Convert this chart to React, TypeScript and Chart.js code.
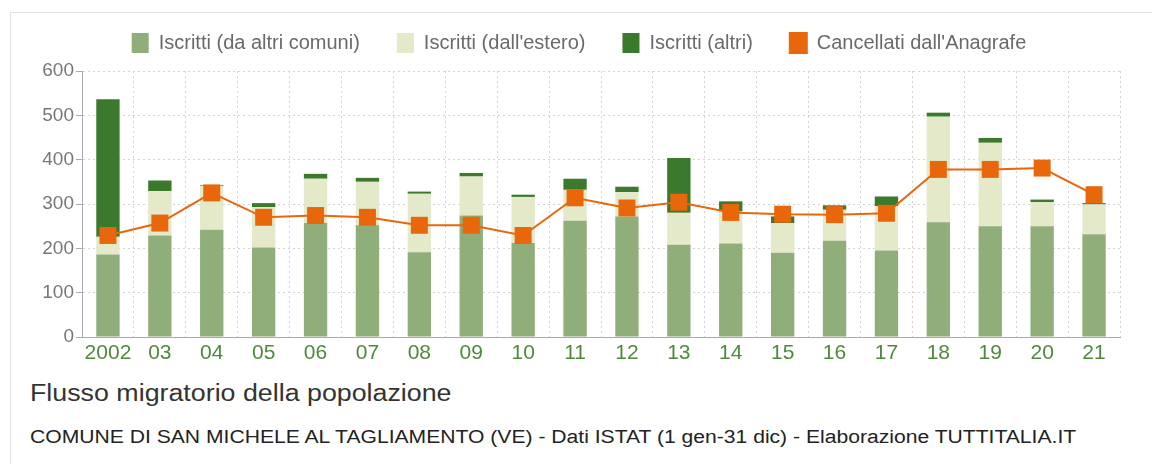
import React, { useEffect, useRef } from "react";
import { Chart, registerables } from "chart.js";

Chart.register(...registerables);

const years = ["2002", "03", "04", "05", "06", "07", "08", "09", "10", "11", "12", "13", "14", "15", "16", "17", "18", "19", "20", "21"];
const daAltriComuni = [186, 229, 242, 202, 257, 252, 191, 274, 212, 262, 272, 208, 211, 190, 217, 195, 259, 250, 250, 232];
const dallEstero = [40, 100, 99, 91, 100, 98, 132, 88, 104, 70, 55, 72, 72, 67, 70, 100, 238, 188, 54, 67];
const altri = [310, 24, 2, 9, 11, 9, 5, 8, 5, 25, 12, 124, 23, 15, 10, 22, 9, 11, 6, 3];
const cancellati = [229, 257, 325, 270, 274, 270, 252, 252, 229, 314, 291, 304, 281, 277, 276, 279, 378, 378, 381, 321];
const yTicks = [0, 100, 200, 300, 400, 500, 600];

const FONT = '"Liberation Sans", Arial, Helvetica, sans-serif';
const C_ALTRI_COMUNI = "#8fae79";
const C_ESTERO = "#e3e9c9";
const C_ALTRI = "#3b7a2c";
const C_CANC = "#e8670b";

export default function App() {
  const ref = useRef<HTMLCanvasElement | null>(null);

  useEffect(() => {
    const canvas = ref.current;
    if (!canvas) return;
    const legendFix = {
      id: "legendFix",
      beforeLayout(chart: any) {
        const lg = chart.legend;
        if (lg && !lg.__fixed) {
          const orig = lg.fit.bind(lg);
          lg.fit = function () {
            orig();
            this.height = 75;
          };
          lg.__fixed = true;
        }
      },
      afterLayout(chart: any) {
        const lg = chart.legend;
        if (lg) {
          lg.left += 14;
          lg.right += 14;
        }
      },
    };
    const chart = new Chart(canvas, {
      type: "bar",
      data: {
        labels: years,
        datasets: [
          {
            type: "line",
            label: "Cancellati dall'Anagrafe",
            data: cancellati,
            borderColor: C_CANC,
            backgroundColor: C_CANC,
            borderWidth: 2,
            pointStyle: "rect",
            pointRadius: 12,
            pointBorderWidth: 0,
            pointBackgroundColor: C_CANC,
            order: 0,
          } as any,
          {
            label: "Iscritti (da altri comuni)",
            data: daAltriComuni,
            backgroundColor: C_ALTRI_COMUNI,
            borderWidth: 0,
            stack: "s",
            order: 1,
          },
          {
            label: "Iscritti (dall'estero)",
            data: dallEstero,
            backgroundColor: C_ESTERO,
            borderWidth: 0,
            stack: "s",
            order: 1,
          },
          {
            label: "Iscritti (altri)",
            data: altri,
            backgroundColor: C_ALTRI,
            borderWidth: 0,
            stack: "s",
            order: 1,
          },
        ],
      },
      options: {
        animation: false,
        responsive: false,
        devicePixelRatio: 1,
        layout: { padding: { top: -16, left: 0, right: 32, bottom: 5 } },
        datasets: { bar: { categoryPercentage: 0.5, barPercentage: 0.9 } },
        plugins: {
          legend: {
            position: "top",
            labels: {
              boxWidth: 17,
              boxHeight: 20,
              padding: 37,
              color: "#6a6a6a",
              font: { family: FONT, size: 20 },
              sort: (a: any, b: any) => {
                const order = ["Iscritti (da altri comuni)", "Iscritti (dall'estero)", "Iscritti (altri)", "Cancellati dall'Anagrafe"];
                return order.indexOf(a.text) - order.indexOf(b.text);
              },
            },
          },
          tooltip: { enabled: false },
        },
        scales: {
          x: {
            stacked: true,
            offset: true,
            grid: { offset: true, color: "#d4d4d4", borderDash: [2, 3], drawTicks: false } as any,
            border: { color: "#aaa", dash: [2, 3] } as any,
            ticks: { color: "#4f8a3c", font: { family: FONT, size: 21 }, padding: 4, maxRotation: 0, autoSkip: false },
            afterFit: (s: any) => { s.height = 30; },
          },
          y: {
            stacked: true,
            min: 0,
            max: 600,
            afterBuildTicks: (s: any) => { s.ticks = yTicks.map((v) => ({ value: v })); },
            grid: { color: "#d4d4d4", borderDash: [2, 3], tickLength: 6, tickColor: "#aaa", tickBorderDash: [] } as any,
            border: { color: "#aaa", dash: [2, 3] } as any,
            ticks: { color: "#777", font: { family: FONT, size: 19 }, padding: 2 },
            afterFit: (s: any) => { s.width = 72; },
          },
        },
      },
      plugins: [legendFix],
    });
    return () => chart.destroy();
  }, []);

  return (
    <div style={{ position: "absolute", left: 0, top: 0, width: 1152, height: 464, background: "#fff", overflow: "hidden" }}>
      <div style={{ position: "absolute", left: 10, top: 12, width: 1160, height: 470, borderTop: "1px solid #e2e2e2", borderLeft: "1px solid #e2e2e2" }} />
      <canvas ref={ref} width={1142} height={360} style={{ position: "absolute", left: 10, top: 12, width: 1142, height: 360 }} />
      <div style={{ position: "absolute", left: 30, top: 379, fontFamily: FONT, fontSize: 23, color: "#333", whiteSpace: "nowrap", lineHeight: "28px", transform: "scaleX(1.165)", transformOrigin: "left center" }}>
        Flusso migratorio della popolazione
      </div>
      <div style={{ position: "absolute", left: 30, top: 426, fontFamily: FONT, fontSize: 18, color: "#222", whiteSpace: "nowrap", lineHeight: "22px", transform: "scaleX(1.173)", transformOrigin: "left center" }}>
        COMUNE DI SAN MICHELE AL TAGLIAMENTO (VE) - Dati ISTAT (1 gen-31 dic) - Elaborazione TUTTITALIA.IT
      </div>
    </div>
  );
}
